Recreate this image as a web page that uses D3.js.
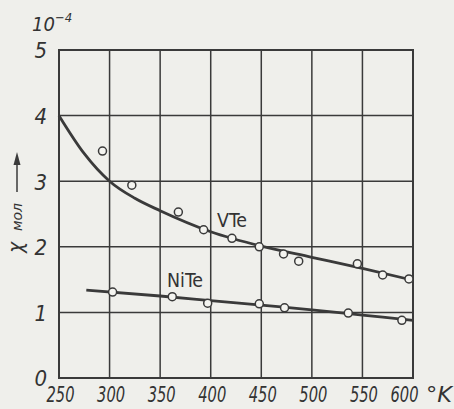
<!DOCTYPE html>
<html>
<head>
<meta charset="utf-8">
<script src="https://cdn.jsdelivr.net/npm/d3@7"></script>
<style>
  body { margin: 0; background: #efefeb; }
  svg { display: block; }
  .tick text, .lbl { font-family: "DejaVu Sans Condensed", "DejaVu Sans", sans-serif; font-style: italic; fill: #333; }
</style>
</head>
<body>
<div id="chart"></div>
<script>
var width = 454, height = 409;
var margin = { left: 59, right: 41, top: 50, bottom: 31 };

// tick values
var xTicks = [250, 300, 350, 400, 450, 500, 550, 600];
var yTicks = [0, 1, 2, 3, 4, 5];

// VTe: fitted curve and measured points
var vteCurveT = [250, 275, 300, 325, 350, 400, 450, 500, 550, 600];
var vteCurveX = [4.0, 3.42, 3.0, 2.74, 2.55, 2.23, 2.01, 1.84, 1.67, 1.49];
var vtePointT = [293, 322, 368, 393, 421, 448, 472, 487, 545, 570, 596];
var vtePointX = [3.46, 2.94, 2.53, 2.26, 2.13, 2.0, 1.89, 1.78, 1.74, 1.57, 1.51];

// NiTe: fitted line and measured points
var niteCurveT = [277, 350, 400, 450, 500, 550, 600];
var niteCurveX = [1.34, 1.25, 1.18, 1.11, 1.04, 0.96, 0.88];
var nitePointT = [303, 362, 397, 448, 473, 536, 589];
var nitePointX = [1.31, 1.24, 1.14, 1.13, 1.07, 0.99, 0.88];

var x = d3.scaleLinear().domain([250, 600]).range([margin.left, width - margin.right]);
var y = d3.scaleLinear().domain([0, 5]).range([height - margin.bottom, margin.top]);

var svg = d3.select('#chart').append('svg')
    .attr('width', width)
    .attr('height', height);

var ink = '#3a3a3a';

// grid
svg.append('g').selectAll('line').data(xTicks).enter().append('line')
    .attr('x1', x).attr('x2', x)
    .attr('y1', y(0)).attr('y2', y(5))
    .style('stroke', ink).style('stroke-width', 1.5);
svg.append('g').selectAll('line').data(yTicks).enter().append('line')
    .attr('x1', x(250)).attr('x2', x(600))
    .attr('y1', y).attr('y2', y)
    .style('stroke', ink).style('stroke-width', 1.5);

// frame
svg.append('rect')
    .attr('x', x(250)).attr('y', y(5))
    .attr('width', x(600) - x(250)).attr('height', y(0) - y(5))
    .attr('fill', 'none').style('stroke', ink).style('stroke-width', 2);

// axes (labels only)
var xAxis = svg.append('g')
    .attr('transform', 'translate(0,' + y(0) + ')')
    .call(d3.axisBottom(x).tickValues(xTicks).tickFormat(d3.format('d')).tickSize(0).tickPadding(9));
xAxis.select('.domain').remove();
xAxis.selectAll('text')
    .style('font-size', '21px')
    .attr('textLength', 28).attr('lengthAdjust', 'spacingAndGlyphs')
    .attr('dx', function (d) { return d === 600 ? -9 : 1; });

var yAxis = svg.append('g')
    .attr('transform', 'translate(' + x(250) + ',0)')
    .call(d3.axisLeft(y).tickValues(yTicks).tickFormat(d3.format('d')).tickSize(0).tickPadding(12));
yAxis.select('.domain').remove();
yAxis.selectAll('text').style('font-size', '22px').attr('dy', '0.36em');

// curves
var line = d3.line()
    .x(function (d) { return x(d[0]); })
    .y(function (d) { return y(d[1]); })
    .curve(d3.curveMonotoneX);

svg.append('path')
    .datum(d3.zip(vteCurveT, vteCurveX))
    .attr('d', line)
    .attr('fill', 'none').style('stroke', ink).style('stroke-width', 2.8);
svg.append('path')
    .datum(d3.zip(niteCurveT, niteCurveX))
    .attr('d', line)
    .attr('fill', 'none').style('stroke', ink).style('stroke-width', 2.8);

// measured points
function points(ts, vs) {
    svg.append('g').selectAll('circle').data(d3.zip(ts, vs)).enter().append('circle')
        .attr('cx', function (d) { return x(d[0]); })
        .attr('cy', function (d) { return y(d[1]); })
        .attr('r', 4)
        .attr('fill', '#f4f4f0')
        .style('stroke', ink).style('stroke-width', 1.5);
}
points(vtePointT, vtePointX);
points(nitePointT, nitePointX);

// series labels
svg.append('text').attr('class', 'lbl')
    .attr('x', 217).attr('y', 227)
    .style('font-style', 'normal').style('font-size', '19px')
    .attr('textLength', 30).attr('lengthAdjust', 'spacingAndGlyphs')
    .text('VTe');
svg.append('text').attr('class', 'lbl')
    .attr('x', 167).attr('y', 287)
    .style('font-style', 'normal').style('font-size', '19px')
    .attr('textLength', 36).attr('lengthAdjust', 'spacingAndGlyphs')
    .text('NiTe');

// units
svg.append('text').attr('class', 'lbl')
    .attr('x', 32).attr('y', 31)
    .style('font-size', '20px')
    .text('10');
svg.append('text').attr('class', 'lbl')
    .attr('x', 55).attr('y', 22)
    .style('font-size', '13px')
    .text('−4');
svg.append('text').attr('class', 'lbl')
    .attr('x', 426).attr('y', 402)
    .style('font-size', '21px')
    .attr('textLength', 26).attr('lengthAdjust', 'spacingAndGlyphs')
    .text('°K');

// y label with arrow
svg.append('text').attr('class', 'lbl')
    .attr('transform', 'translate(23,253) rotate(-90)')
    .style('font-size', '21px')
    .text('χ');
svg.append('text').attr('class', 'lbl')
    .attr('transform', 'translate(22,231) rotate(-90)')
    .style('font-size', '14px')
    .attr('textLength', 28).attr('lengthAdjust', 'spacingAndGlyphs')
    .text('мол');
svg.append('line')
    .attr('x1', 17).attr('x2', 17)
    .attr('y1', 192).attr('y2', 160)
    .style('stroke', ink).style('stroke-width', 1.5);
svg.append('path')
    .attr('d', 'M13.5,165 L17,152 L20.5,165 Z')
    .attr('fill', ink);
</script>
</body>
</html>
